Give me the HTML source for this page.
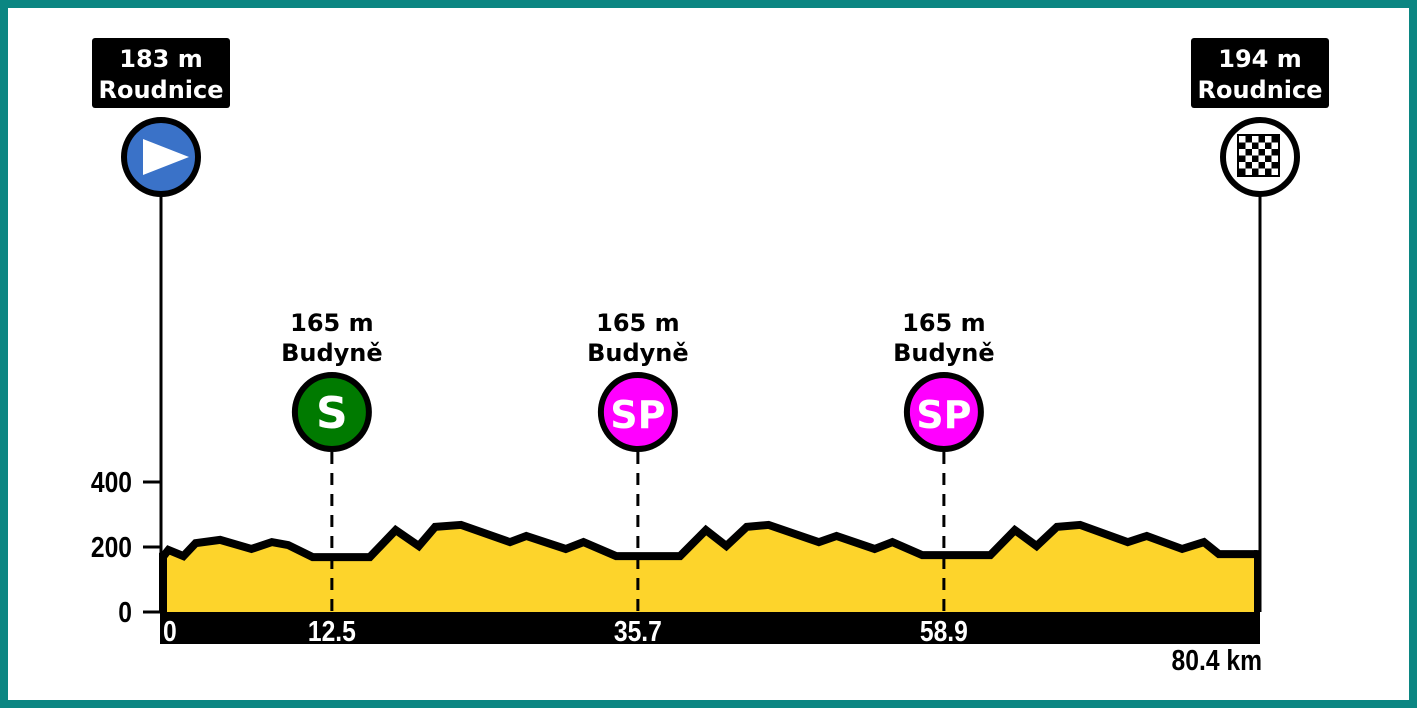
<!DOCTYPE html>
<html><head><meta charset="utf-8"><style>
html,body{margin:0;padding:0;background:#fff}
#wrap{position:relative;width:1417px;height:708px;box-sizing:border-box;border:8px solid #0b8682;background:#fff;overflow:hidden}
svg{position:absolute;left:-8px;top:-8px}
</style></head><body>
<div id="wrap">
<svg id="chart" width="1417" height="708"></svg>
</div>
<script>
const profileKm=[0,0.4,1.5,2.4,4.2,6.5,8.0,9.2,11.0,15.2,17.1,18.8,20.0,21.9,25.5,26.7,29.6,30.9,33.3,38.0,39.9,41.4,42.9,44.5,48.2,49.5,52.3,53.6,55.8,60.8,62.6,64.2,65.7,67.4,70.9,72.3,74.9,76.5,77.6,80.4];
const profileElev=[170,191,172,212,222,194,215,206,169,169,252,203,262,268,215,234,194,215,172,172,252,203,262,268,215,234,194,215,175,175,252,203,262,268,215,234,194,215,178,178];
const yTicks=[0,200,400];
const markerKm=[12.5,35.7,58.9];
const markerLabels=["S","SP","SP"];
const markerColors=["#007a00","#ff00ff","#ff00ff"];
const markerElev=["165 m","165 m","165 m"];
const markerPlace=["Budyně","Budyně","Budyně"];
const totalKm=80.4;
const startInfo=["183 m","Roudnice"];
const finishInfo=["194 m","Roudnice"];

const NS="http://www.w3.org/2000/svg";
const svg=document.getElementById('chart');
const X0=163,X1=1257,Y0=612,PXM=0.325;
const xs=k=>X0+(k/totalKm)*(X1-X0);
const xm=k=>167+k*13.19;
const ys=m=>Y0-m*PXM;
function mk(tag,attrs,parent){const e=document.createElementNS(NS,tag);for(const k in attrs)e.setAttribute(k,attrs[k]);(parent||svg).appendChild(e);return e;}
const bold='font-family:"DejaVu Sans","Liberation Sans",sans-serif;font-weight:bold';
const narrow='font-family:"Liberation Sans",sans-serif;font-weight:bold';
function sx(x){return `translate(${x} 0) scale(0.85 1) translate(${-x} 0)`;}

let d=`M${xs(0)},${Y0}`;
profileKm.forEach((k,i)=>{d+=` L${xs(k)},${ys(profileElev[i])}`});
d+=` L${xs(totalKm)},${Y0} Z`;
const area=mk('path',{d,fill:'#fdd42b',stroke:'none'});


let ld='';
profileKm.forEach((k,i)=>{ld+=(i?' L':'M')+xs(k)+','+ys(profileElev[i])});
const line=mk('path',{d:ld,fill:'none',stroke:'#000','stroke-width':8,'stroke-linejoin':'miter'});


mk('line',{x1:xs(0),y1:ys(profileElev[0])-4,x2:xs(0),y2:Y0,stroke:'#000','stroke-width':8});
mk('line',{x1:xs(totalKm),y1:ys(profileElev[profileElev.length-1])-4,x2:xs(totalKm),y2:Y0,stroke:'#000','stroke-width':6});

const bar=mk('rect',{x:160,y:Y0,width:1100,height:32,fill:'#000'});


const t0=mk('text',{x:163,y:641,fill:'#fff','font-size':29,style:narrow,transform:sx(163)});t0.textContent='0';


const tk=mk('text',{x:1262,y:670,fill:'#000','font-size':29,'text-anchor':'end',style:narrow,transform:sx(1262)});tk.textContent=totalKm+' km';



yTicks.forEach(v=>{
  const y=ys(v);
  mk('line',{x1:143,y1:y,x2:160,y2:y,stroke:'#000','stroke-width':3});
  const t=mk('text',{x:132,y:y+10,'text-anchor':'end','font-size':29,style:narrow,transform:sx(132)});
  t.textContent=v;
  
  
});

markerKm.forEach((k,i)=>{
  const x=xm(k);
  const g=mk('g',{});
  
  
  mk('line',{x1:x,y1:452,x2:x,y2:Y0,stroke:'#000','stroke-width':3,'stroke-dasharray':'12,9'},g);
  mk('circle',{cx:x,cy:412,r:37,fill:markerColors[i],stroke:'#000','stroke-width':6},g);
  const l=mk('text',{x:x,y:428,'text-anchor':'middle',fill:'#fff','font-size':i==0?44:38,style:bold},g);l.textContent=markerLabels[i];
  const a=mk('text',{x:x,y:331,'text-anchor':'middle','font-size':24,style:bold},g);a.textContent=markerElev[i];
  const b=mk('text',{x:x,y:361,'text-anchor':'middle','font-size':24,style:bold},g);b.textContent=markerPlace[i];
  const tl=mk('text',{x:x,y:641,'text-anchor':'middle',fill:'#fff','font-size':29,style:narrow,transform:sx(x)});tl.textContent=k;
  
  
});

function endMarker(x,info,kind){
  const g=mk('g',{});
  
  
  mk('line',{x1:x,y1:190,x2:x,y2:Y0,stroke:'#000','stroke-width':3},g);
  mk('rect',{x:x-69,y:38,width:138,height:70,rx:3,fill:'#000'},g);
  const a=mk('text',{x:x,y:67,'text-anchor':'middle',fill:'#fff','font-size':24,style:bold},g);a.textContent=info[0];
  const b=mk('text',{x:x,y:98,'text-anchor':'middle',fill:'#fff','font-size':24,style:bold},g);b.textContent=info[1];
  if(kind==='start'){
    mk('circle',{cx:x,cy:157,r:37,fill:'#3a72c8',stroke:'#000','stroke-width':6},g);
    mk('polygon',{points:`${x-18},${139} ${x+28},${157} ${x-18},${175}`,fill:'#fff'},g);
  }else{
    mk('circle',{cx:x,cy:157,r:37,fill:'#fff',stroke:'#000','stroke-width':6},g);
    const s=6.5,ox=x-21,oy=136;
    mk('rect',{x:ox-2,y:oy-2,width:s*6+4,height:s*6+4,fill:'#000'},g);
    for(let r=0;r<6;r++)for(let c=0;c<6;c++) if((r+c)%2==0) mk('rect',{x:ox+c*s,y:oy+r*s,width:s,height:s,fill:'#fff'},g);
  }
}
endMarker(161,startInfo,'start');
endMarker(1260,finishInfo,'finish');
</script>
</body></html>
